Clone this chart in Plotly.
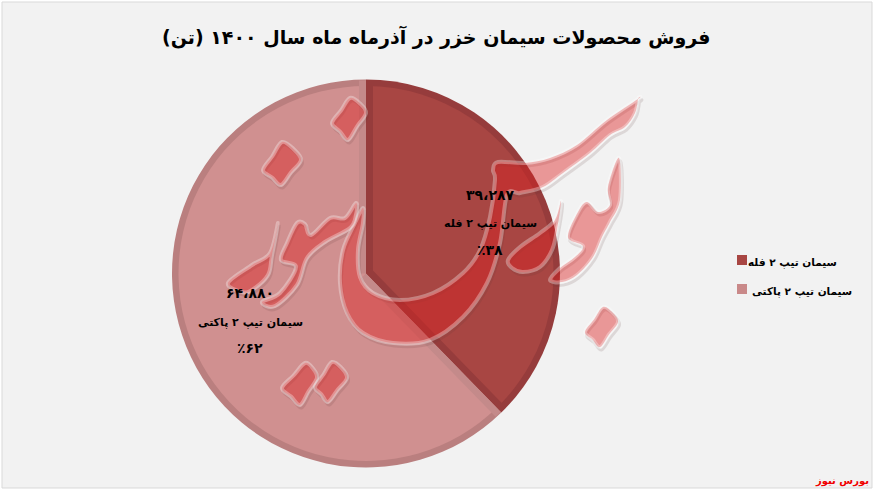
import math
import plotly.graph_objects as go

# ---- data ----
categories = ["سیمان تیپ ۲ فله", "سیمان تیپ ۲ پاکتی"]
values = [39287, 64880]
value_labels = ["۳۹،۲۸۷", "۶۴،۸۸۰"]
percent_labels = ["٪۳۸", "٪۶۲"]
title_text = "فروش محصولات سیمان خزر در آذرماه ماه سال ۱۴۰۰ (تن)"
source_text = "بورس نیوز"

# ---- helpers: page pixels to paper fractions ----
W, H = 875, 492
FONT = "DejaVu Sans"
def fx(px): return px / W
def fy(py): return 1 - py / H

CX, CY, R_OUT, R_IN = 366, 273.5, 194, 187.5
def dom(r):
    return dict(x=[fx(CX - r), fx(CX + r)], y=[fy(CY + r), fy(CY - r)])

def smooth(points):
    """closed Catmull-Rom outline through the points, in paper fractions"""
    n = len(points)
    d = f"M {fx(points[0][0]):.5f} {fy(points[0][1]):.5f}"
    for i in range(n):
        p0, p1, p2, p3 = points[i - 1], points[i], points[(i + 1) % n], points[(i + 2) % n]
        c1 = (p1[0] + (p2[0] - p0[0]) / 6, p1[1] + (p2[1] - p0[1]) / 6)
        c2 = (p2[0] - (p3[0] - p1[0]) / 6, p2[1] - (p3[1] - p1[1]) / 6)
        d += f" C {fx(c1[0]):.5f} {fy(c1[1]):.5f} {fx(c2[0]):.5f} {fy(c2[1]):.5f} {fx(p2[0]):.5f} {fy(p2[1]):.5f}"
    return d + " Z"

def mid(a, b, dx=0, dy=0):
    return ((a[0] + b[0]) / 2 + dx, (a[1] + b[1]) / 2 + dy)

def dot(top, right, bottom, left):
    """logo dot: round at the top right, nearly straight towards the bottom and left corners"""
    return [top, mid(top, right, 2, -2), right, mid(right, bottom), bottom, mid(bottom, left), left, mid(left, top)]

# ---- the calligraphic logo behind the chart text ----
logo_main = [(363, 208), (355, 223), (343, 250), (340, 283), (347, 313), (363, 333), (393, 343), (430, 340),
             (463, 317), (487, 283), (500, 243), (507, 195), (520, 193), (543, 187), (563, 173), (590, 153),
             (610, 135), (625, 127), (635, 113), (638, 99), (638, 99), (607, 120), (577, 145), (550, 158),
             (525, 163), (498, 162), (493, 170), (495, 180), (490, 217), (480, 250), (463, 273), (433, 293),
             (400, 300), (373, 293), (360, 277), (358, 250), (363, 223)]
logo_r_right = [(561, 201), (555, 220), (540, 233), (520, 247), (508, 260), (512, 268), (523, 272), (540, 267),
                (552, 250), (557, 230)]
logo_w_right = [(619, 158), (608, 187), (610, 205), (598, 212), (587, 202), (578, 212), (568, 237), (583, 246),
                (575, 257), (560, 268), (550, 280), (562, 282), (577, 275), (593, 257), (602, 237), (610, 222),
                (620, 200)]
logo_r_left = [(278, 223), (270, 253), (252, 265), (228, 283), (242, 292), (252, 290), (268, 275), (272, 255)]
logo_w_left = [(297, 223), (287, 243), (281, 260), (296, 267), (280, 293), (262, 302), (275, 306), (297, 285),
               (307, 258), (325, 242), (350, 228), (356, 215), (356, 203), (345, 218), (330, 218), (311, 235),
               (305, 224)]
logo_dots = [
    dot((350, 98), (366, 113), (348, 140), (332, 123)),
    dot((282, 142), (301, 160), (281, 185), (263, 170)),
    dot((305, 363), (317, 378), (300, 405), (282, 388)),
    dot((332, 362), (347, 378), (328, 402), (315, 387)),
    dot((603, 307), (618, 322), (600, 347), (585, 332)),
]
logo_parts = [logo_main, logo_r_right, logo_w_right, logo_r_left, logo_w_left] + logo_dots

shapes = [dict(type="rect", xref="paper", yref="paper", layer="below",
               x0=fx(2), x1=fx(872), y0=fy(488), y1=fy(2),
               fillcolor="#F2F2F2", line=dict(color="#D9D9D9", width=1))]

# radial bevel bands along both slice edges, at the angles the data gives
total = sum(values)
angle_edge = 2 * math.pi * values[0] / total
def band(angle, side, colour):
    ux, uy = math.sin(angle), -math.cos(angle)
    nx, ny = -uy * side, ux * side
    pts = [(CX, CY), (CX + nx * 7, CY + ny * 7),
           (CX + nx * 7 + ux * (R_OUT - 1), CY + ny * 7 + uy * (R_OUT - 1)),
           (CX + ux * (R_OUT - 1), CY + uy * (R_OUT - 1))]
    d = "M " + " L ".join(f"{fx(x):.5f} {fy(y):.5f}" for x, y in pts) + " Z"
    return dict(type="path", xref="paper", yref="paper", layer="above", path=d,
                fillcolor=colour, line=dict(width=0))
shapes += [band(0, 1, "#963C3C"), band(0, -1, "#C48A8A"),
           band(angle_edge, -1, "#963C3C"), band(angle_edge, 1, "#C48A8A")]

for part in logo_parts:
    moved = [(x + 1.5, y + 3) for x, y in part]
    shapes.append(dict(type="path", xref="paper", yref="paper", layer="above", path=smooth(moved),
                       fillcolor="rgba(0,0,0,0)", line=dict(color="rgba(90,60,60,0.14)", width=3)))
for part in logo_parts:
    shapes.append(dict(type="path", xref="paper", yref="paper", layer="above", path=smooth(part),
                       fillcolor="rgba(220,30,30,0.43)", line=dict(color="rgba(255,255,255,0.32)", width=4)))

# legend swatches
legend_colours = ["#A84643", "#C98989"]
legend_y = [260, 289]
legend_right = [839, 854]
for colour, ly in zip(legend_colours, legend_y):
    shapes.append(dict(type="rect", xref="paper", yref="paper", layer="above",
                       x0=fx(737), x1=fx(747), y0=fy(ly + 5), y1=fy(ly - 5),
                       fillcolor=colour, line=dict(width=0)))

fig = go.Figure()
fig.add_trace(go.Pie(labels=categories, values=values, textinfo="none", sort=False, direction="clockwise",
                     rotation=0, marker=dict(colors=["#963C3C", "#BA7F7F"], line=dict(width=0)),
                     domain=dom(R_OUT), showlegend=False, hoverinfo="skip"))
fig.add_trace(go.Pie(labels=categories, values=values, textinfo="none", sort=False, direction="clockwise",
                     rotation=0, marker=dict(colors=["#A84643", "#D09090"], line=dict(width=0)),
                     domain=dom(R_IN), showlegend=False))

def note(px, py, text, size, color="#000", xanchor="center"):
    fig.add_annotation(x=fx(px), y=fy(py), xref="paper", yref="paper", text=f"<b>{text}</b>", showarrow=False,
                       xanchor=xanchor, yanchor="middle", font=dict(family=FONT, size=size, color=color))

note(436, 37, title_text, 19)
note(871, 481, source_text, 10, "#F00000", "right")
label_x = [490, 250]
label_y = [(195, 223, 250), (293, 322, 348)]
for i in range(2):
    note(label_x[i], label_y[i][0], value_labels[i], 14)
    note(label_x[i], label_y[i][1], categories[i], 11)
    note(label_x[i], label_y[i][2], percent_labels[i], 14)
for name, ly, right in zip(categories, legend_y, legend_right):
    note(right, ly + 2, name, 10.5, "#000", "right")

fig.update_layout(width=W, height=H, margin=dict(l=0, r=0, t=0, b=0),
                  paper_bgcolor="#FFFFFF", plot_bgcolor="#F2F2F2", shapes=shapes)
fig.write_html("out.html", config=dict(displayModeBar=False),
               post_script="document.body.style.margin='0';document.documentElement.style.overflow='hidden';")
